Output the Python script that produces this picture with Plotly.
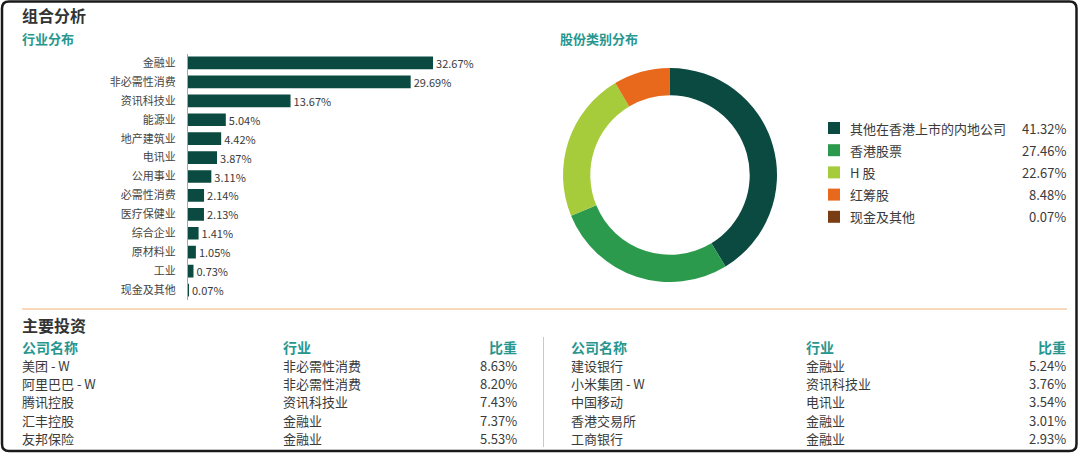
import plotly.graph_objects as go

W, H = 1080, 456

# ---------------- data ----------------
industries = ["金融业", "非必需性消费", "资讯科技业", "能源业", "地产建筑业", "电讯业", "公用事业",
              "必需性消费", "医疗保健业", "综合企业", "原材料业", "工业", "现金及其他"]
industry_pct = [32.67, 29.69, 13.67, 5.04, 4.42, 3.87, 3.11, 2.14, 2.13, 1.41, 1.05, 0.73, 0.07]

share_types = ["其他在香港上市的内地公司", "香港股票", "H 股", "红筹股", "现金及其他"]
share_pct = [41.32, 27.46, 22.67, 8.48, 0.07]
share_colors = ["#0b4a40", "#2b9a4c", "#a6cc3c", "#e8681c", "#7a3e14"]

left_names = ["美团 - W", "阿里巴巴 - W", "腾讯控股", "汇丰控股", "友邦保险"]
left_inds = ["非必需性消费", "非必需性消费", "资讯科技业", "金融业", "金融业"]
left_wts = [8.63, 8.20, 7.43, 7.37, 5.53]
right_names = ["建设银行", "小米集团 - W", "中国移动", "香港交易所", "工商银行"]
right_inds = ["金融业", "资讯科技业", "电讯业", "金融业", "金融业"]
right_wts = [5.24, 3.76, 3.54, 3.01, 2.93]
table_headers = ["公司名称", "行业", "比重"]

# ---------------- helpers ----------------
def px(x):
    return x / W

def py(y):
    return 1 - y / H

FONT = "Noto Sans CJK SC, Noto Sans, sans-serif"
TEAL = "#27968f"
DARK = "#333333"
TXT = "#3a3a3a"
BAR = "#0b4a40"

fig = go.Figure()

# ---------------- bar chart ----------------
fig.add_trace(go.Bar(
    x=industry_pct, y=industries, orientation="h",
    marker=dict(color=BAR, line=dict(width=0)),
    width=0.67,
    texttemplate="%{x:.2f}%", textposition="outside",
    textfont=dict(size=11, color=TXT, family=FONT),
    constraintext="none", cliponaxis=False,
    showlegend=False, hoverinfo="skip",
    xaxis="x", yaxis="y",
))

# ---------------- donut ----------------
fig.add_trace(go.Pie(
    labels=share_types, values=share_pct,
    marker=dict(colors=share_colors, line=dict(width=0)),
    hole=0.745, sort=False, direction="clockwise", rotation=0,
    textinfo="none", showlegend=False, hoverinfo="skip",
    domain=dict(x=[px(563), px(777)], y=[py(282), py(68)]),
))

shapes = []
annotations = []

PADX = 2  # annotation inner offset compensation

def text(t, x, y, size, color, bold=False, anchor="left"):
    xx = x - PADX if anchor == "left" else x + PADX
    annotations.append(dict(text=t, x=px(xx), y=py(y), xref="paper", yref="paper",
                            xanchor=anchor, yanchor="middle", showarrow=False,
                            font=dict(size=size, color=color, family=FONT,
                                      weight="bold" if bold else "normal")))

# donut legend
for i, (lab, val, col) in enumerate(zip(share_types, share_pct, share_colors)):
    yc = 128 + i * 22.2
    shapes.append(dict(type="rect", xref="paper", yref="paper",
                       x0=px(828), x1=px(840), y0=py(yc + 6), y1=py(yc - 6),
                       fillcolor=col, line=dict(width=0)))
    text(lab, 850, yc, 13, TXT)
    text(f"{val:.2f}%", 1066, yc, 13, TXT, anchor="right")

# titles
text("组合分析", 22, 15.5, 16, DARK, bold=True)
text("行业分布", 22, 38, 13, TEAL, bold=True)
text("股份类别分布", 560, 38, 13, TEAL, bold=True)
text("主要投资", 22, 325, 16, DARK, bold=True)

# tables
def table(x_name, x_ind, x_wt, names, inds, wts):
    hy = 346.5
    text(table_headers[0], x_name, hy, 14, TEAL, bold=True)
    text(table_headers[1], x_ind, hy, 14, TEAL, bold=True)
    text(table_headers[2], x_wt, hy, 14, TEAL, bold=True, anchor="right")
    for i, (n, ind, w) in enumerate(zip(names, inds, wts)):
        yc = 365.3 + i * 18.3
        text(n, x_name, yc, 13, TXT)
        text(ind, x_ind, yc, 13, TXT)
        text(f"{w:.2f}%", x_wt, yc, 13, TXT, anchor="right")

table(22, 283, 517, left_names, left_inds, left_wts)
table(571, 806, 1066, right_names, right_inds, right_wts)

# divider lines
shapes.append(dict(type="line", xref="paper", yref="paper",
                   x0=px(22), x1=px(1067), y0=py(309), y1=py(309),
                   line=dict(color="#f6cda4", width=1.5)))
shapes.append(dict(type="line", xref="paper", yref="paper",
                   x0=px(543.5), x1=px(543.5), y0=py(337), y1=py(447),
                   line=dict(color="#c8c8c8", width=1)))

# rounded border
x0, x1, y0, y1, r = 2, 1076.5, 1.5, 451, 7
def P(x, y):
    return f"{px(x):.6f},{py(y):.6f}"
path = (f"M {P(x0 + r, y0)} L {P(x1 - r, y0)} Q {P(x1, y0)} {P(x1, y0 + r)} "
        f"L {P(x1, y1 - r)} Q {P(x1, y1)} {P(x1 - r, y1)} "
        f"L {P(x0 + r, y1)} Q {P(x0, y1)} {P(x0, y1 - r)} "
        f"L {P(x0, y0 + r)} Q {P(x0, y0)} {P(x0 + r, y0)} Z")
shapes.append(dict(type="path", xref="paper", yref="paper", path=path,
                   line=dict(color="#1a1a1a", width=2.5)))

n = len(industries)
fig.update_layout(
    width=W, height=H,
    margin=dict(l=0, r=0, t=0, b=0),
    paper_bgcolor="white", plot_bgcolor="white",
    font=dict(family=FONT),
    xaxis=dict(domain=[px(188), px(488)], range=[0, 40], visible=False, fixedrange=True),
    yaxis=dict(domain=[py(299.5), py(53.5)], range=[n - 0.5, -0.5],
               showgrid=False, zeroline=False, showline=True, linecolor="#a8a8a8", linewidth=1,
               ticks="", ticklabelstandoff=9,
               tickfont=dict(size=11, color="#444444", family=FONT), fixedrange=True),
    shapes=shapes, annotations=annotations,
    bargap=0.33,
)

fig.write_html("out.html", config={"displayModeBar": False},
               post_script="document.body.style.margin='0';document.body.style.overflow='hidden';")
